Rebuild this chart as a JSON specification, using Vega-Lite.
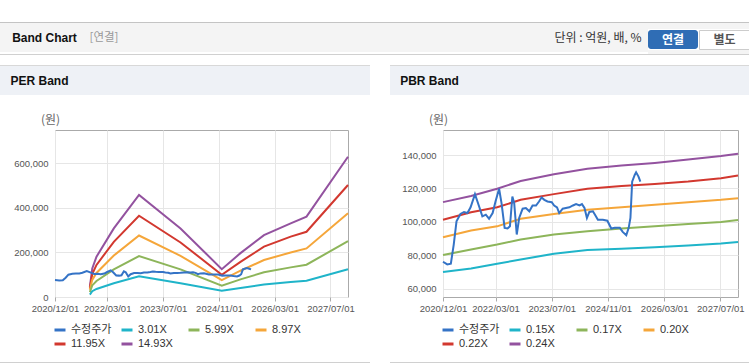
{
  "$schema": "https://vega.github.io/schema/vega-lite/v6.json",
  "padding": {"top": 22, "left": 0, "right": 0, "bottom": 0},
  "background": "#ffffff",
  "spacing": 10,
  "config": {
    "view": {"stroke": null},
    "font": "Liberation Sans",
    "axis": {"gridColor": "#e6e6e6", "gridWidth": 1, "domain": false, "labelFlush": false, "labelOverlap": false, "labelFont": "Liberation Sans", "labelFontSize": 9.5, "labelColor": "#555555"}
  },
  "resolve": {"scale": {"color": "independent"}, "legend": {"color": "independent"}},
  "datasets": {
    "price": [
      {"date": "2020-12-01", "series": "수정주가", "value": 76100},
      {"date": "2021-01-07", "series": "수정주가", "value": 74500},
      {"date": "2021-02-07", "series": "수정주가", "value": 74900},
      {"date": "2021-03-04", "series": "수정주가", "value": 86400},
      {"date": "2021-03-28", "series": "수정주가", "value": 100300},
      {"date": "2021-05-01", "series": "수정주가", "value": 104700},
      {"date": "2021-06-01", "series": "수정주가", "value": 105900},
      {"date": "2021-07-01", "series": "수정주가", "value": 105300},
      {"date": "2021-07-28", "series": "수정주가", "value": 108700},
      {"date": "2021-09-04", "series": "수정주가", "value": 116600},
      {"date": "2021-10-10", "series": "수정주가", "value": 109200},
      {"date": "2021-11-07", "series": "수정주가", "value": 103300},
      {"date": "2021-12-07", "series": "수정주가", "value": 104300},
      {"date": "2022-01-04", "series": "수정주가", "value": 101900},
      {"date": "2022-02-04", "series": "수정주가", "value": 105300},
      {"date": "2022-03-01", "series": "수정주가", "value": 112200},
      {"date": "2022-04-01", "series": "수정주가", "value": 119800},
      {"date": "2022-04-22", "series": "수정주가", "value": 111200},
      {"date": "2022-05-19", "series": "수정주가", "value": 96400},
      {"date": "2022-06-13", "series": "수정주가", "value": 96000},
      {"date": "2022-07-04", "series": "수정주가", "value": 97300},
      {"date": "2022-07-25", "series": "수정주가", "value": 115200},
      {"date": "2022-08-10", "series": "수정주가", "value": 111200},
      {"date": "2022-09-01", "series": "수정주가", "value": 92400},
      {"date": "2022-09-22", "series": "수정주가", "value": 102300},
      {"date": "2022-10-22", "series": "수정주가", "value": 107900},
      {"date": "2022-11-19", "series": "수정주가", "value": 108300},
      {"date": "2022-12-19", "series": "수정주가", "value": 106300},
      {"date": "2023-01-16", "series": "수정주가", "value": 109800},
      {"date": "2023-02-15", "series": "수정주가", "value": 109800},
      {"date": "2023-03-13", "series": "수정주가", "value": 112200},
      {"date": "2023-04-04", "series": "수정주가", "value": 114600},
      {"date": "2023-04-28", "series": "수정주가", "value": 113200},
      {"date": "2023-05-25", "series": "수정주가", "value": 112200},
      {"date": "2023-07-01", "series": "수정주가", "value": 111800},
      {"date": "2023-07-22", "series": "수정주가", "value": 109800},
      {"date": "2023-08-16", "series": "수정주가", "value": 108700},
      {"date": "2023-09-04", "series": "수정주가", "value": 105300},
      {"date": "2023-10-04", "series": "수정주가", "value": 107900},
      {"date": "2023-11-01", "series": "수정주가", "value": 108300},
      {"date": "2023-12-01", "series": "수정주가", "value": 108700},
      {"date": "2024-01-01", "series": "수정주가", "value": 109800},
      {"date": "2024-01-28", "series": "수정주가", "value": 110600},
      {"date": "2024-02-27", "series": "수정주가", "value": 109800},
      {"date": "2024-03-19", "series": "수정주가", "value": 110600},
      {"date": "2024-04-10", "series": "수정주가", "value": 108300},
      {"date": "2024-05-01", "series": "수정주가", "value": 102300},
      {"date": "2024-05-22", "series": "수정주가", "value": 105900},
      {"date": "2024-06-22", "series": "수정주가", "value": 106300},
      {"date": "2024-07-10", "series": "수정주가", "value": 104300},
      {"date": "2024-08-04", "series": "수정주가", "value": 101300},
      {"date": "2024-09-16", "series": "수정주가", "value": 101300},
      {"date": "2024-10-25", "series": "수정주가", "value": 100700},
      {"date": "2024-11-28", "series": "수정주가", "value": 96000},
      {"date": "2024-12-28", "series": "수정주가", "value": 96400},
      {"date": "2025-02-10", "series": "수정주가", "value": 96400},
      {"date": "2025-03-07", "series": "수정주가", "value": 94000},
      {"date": "2025-04-07", "series": "수정주가", "value": 92000},
      {"date": "2025-04-28", "series": "수정주가", "value": 96400},
      {"date": "2025-05-13", "series": "수정주가", "value": 102300},
      {"date": "2025-05-28", "series": "수정주가", "value": 124100},
      {"date": "2025-06-19", "series": "수정주가", "value": 128100},
      {"date": "2025-07-01", "series": "수정주가", "value": 129700},
      {"date": "2025-07-22", "series": "수정주가", "value": 127100},
      {"date": "2025-08-07", "series": "수정주가", "value": 124100}
    ],
    "perBands": [
      {"date": "2021-10-01", "series": "14.93X", "value": 46000},
      {"date": "2021-10-22", "series": "14.93X", "value": 128000},
      {"date": "2021-11-28", "series": "14.93X", "value": 181000},
      {"date": "2022-04-28", "series": "14.93X", "value": 308000},
      {"date": "2022-12-04", "series": "14.93X", "value": 458000},
      {"date": "2023-12-01", "series": "14.93X", "value": 308000},
      {"date": "2024-11-25", "series": "14.93X", "value": 125000},
      {"date": "2025-05-07", "series": "14.93X", "value": 197000},
      {"date": "2025-11-28", "series": "14.93X", "value": 278000},
      {"date": "2026-07-19", "series": "14.93X", "value": 331000},
      {"date": "2026-12-04", "series": "14.93X", "value": 361000},
      {"date": "2027-12-01", "series": "14.93X", "value": 630000},
      {"date": "2021-10-01", "series": "11.95X", "value": 39000},
      {"date": "2021-10-22", "series": "11.95X", "value": 103000},
      {"date": "2021-11-28", "series": "11.95X", "value": 144000},
      {"date": "2022-04-28", "series": "11.95X", "value": 248000},
      {"date": "2022-12-04", "series": "11.95X", "value": 365000},
      {"date": "2023-12-01", "series": "11.95X", "value": 245000},
      {"date": "2024-11-25", "series": "11.95X", "value": 100000},
      {"date": "2025-05-07", "series": "11.95X", "value": 158000},
      {"date": "2025-11-28", "series": "11.95X", "value": 226000},
      {"date": "2026-07-19", "series": "11.95X", "value": 271000},
      {"date": "2026-12-04", "series": "11.95X", "value": 293000},
      {"date": "2027-12-01", "series": "11.95X", "value": 503000},
      {"date": "2021-10-01", "series": "8.97X", "value": 33000},
      {"date": "2021-10-22", "series": "8.97X", "value": 77000},
      {"date": "2021-11-28", "series": "8.97X", "value": 108000},
      {"date": "2022-04-28", "series": "8.97X", "value": 186000},
      {"date": "2022-12-04", "series": "8.97X", "value": 276000},
      {"date": "2023-12-01", "series": "8.97X", "value": 185000},
      {"date": "2024-11-25", "series": "8.97X", "value": 76000},
      {"date": "2025-05-07", "series": "8.97X", "value": 118000},
      {"date": "2025-11-28", "series": "8.97X", "value": 166000},
      {"date": "2026-07-19", "series": "8.97X", "value": 200000},
      {"date": "2026-12-04", "series": "8.97X", "value": 218000},
      {"date": "2027-12-01", "series": "8.97X", "value": 376000},
      {"date": "2021-10-01", "series": "5.99X", "value": 22000},
      {"date": "2021-10-22", "series": "5.99X", "value": 52000},
      {"date": "2021-11-28", "series": "5.99X", "value": 72000},
      {"date": "2022-04-28", "series": "5.99X", "value": 124000},
      {"date": "2022-12-04", "series": "5.99X", "value": 184000},
      {"date": "2023-12-01", "series": "5.99X", "value": 124000},
      {"date": "2024-11-25", "series": "5.99X", "value": 51000},
      {"date": "2025-05-07", "series": "5.99X", "value": 79000},
      {"date": "2025-11-28", "series": "5.99X", "value": 111000},
      {"date": "2026-07-19", "series": "5.99X", "value": 133000},
      {"date": "2026-12-04", "series": "5.99X", "value": 145000},
      {"date": "2027-12-01", "series": "5.99X", "value": 251000},
      {"date": "2021-10-01", "series": "3.01X", "value": 11000},
      {"date": "2021-10-22", "series": "3.01X", "value": 26000},
      {"date": "2021-11-28", "series": "3.01X", "value": 36000},
      {"date": "2022-04-28", "series": "3.01X", "value": 62000},
      {"date": "2022-12-04", "series": "3.01X", "value": 93000},
      {"date": "2023-12-01", "series": "3.01X", "value": 62000},
      {"date": "2024-11-25", "series": "3.01X", "value": 28000},
      {"date": "2025-05-07", "series": "3.01X", "value": 40000},
      {"date": "2025-11-28", "series": "3.01X", "value": 56000},
      {"date": "2026-07-19", "series": "3.01X", "value": 67000},
      {"date": "2026-12-04", "series": "3.01X", "value": 73000},
      {"date": "2027-12-01", "series": "3.01X", "value": 125000}
    ],
    "pbrBands": [
      {"date": "2020-12-01", "series": "0.24X", "value": 111800},
      {"date": "2021-08-01", "series": "0.24X", "value": 115500},
      {"date": "2022-03-15", "series": "0.24X", "value": 119800},
      {"date": "2022-10-05", "series": "0.24X", "value": 124500},
      {"date": "2023-07-20", "series": "0.24X", "value": 128500},
      {"date": "2024-05-05", "series": "0.24X", "value": 131800},
      {"date": "2025-02-25", "series": "0.24X", "value": 133700},
      {"date": "2025-12-10", "series": "0.24X", "value": 135300},
      {"date": "2026-09-25", "series": "0.24X", "value": 137300},
      {"date": "2027-07-07", "series": "0.24X", "value": 139400},
      {"date": "2027-12-01", "series": "0.24X", "value": 140800},
      {"date": "2020-12-01", "series": "0.22X", "value": 101300},
      {"date": "2021-08-01", "series": "0.22X", "value": 105700},
      {"date": "2022-03-15", "series": "0.22X", "value": 108700},
      {"date": "2022-10-05", "series": "0.22X", "value": 113200},
      {"date": "2023-07-20", "series": "0.22X", "value": 116600},
      {"date": "2024-05-05", "series": "0.22X", "value": 119800},
      {"date": "2025-02-25", "series": "0.22X", "value": 121500},
      {"date": "2025-12-10", "series": "0.22X", "value": 122700},
      {"date": "2026-09-25", "series": "0.22X", "value": 124100},
      {"date": "2027-07-07", "series": "0.22X", "value": 126100},
      {"date": "2027-12-01", "series": "0.22X", "value": 127700},
      {"date": "2020-12-01", "series": "0.20X", "value": 90800},
      {"date": "2021-08-01", "series": "0.20X", "value": 94800},
      {"date": "2022-03-15", "series": "0.20X", "value": 97300},
      {"date": "2022-10-05", "series": "0.20X", "value": 101900},
      {"date": "2023-07-20", "series": "0.20X", "value": 104700},
      {"date": "2024-05-05", "series": "0.20X", "value": 107300},
      {"date": "2025-02-25", "series": "0.20X", "value": 108700},
      {"date": "2025-12-10", "series": "0.20X", "value": 110200},
      {"date": "2026-09-25", "series": "0.20X", "value": 111800},
      {"date": "2027-07-07", "series": "0.20X", "value": 113200},
      {"date": "2027-12-01", "series": "0.20X", "value": 114200},
      {"date": "2020-12-01", "series": "0.17X", "value": 80100},
      {"date": "2021-08-01", "series": "0.17X", "value": 83500},
      {"date": "2022-03-15", "series": "0.17X", "value": 86400},
      {"date": "2022-10-05", "series": "0.17X", "value": 89400},
      {"date": "2023-07-20", "series": "0.17X", "value": 92400},
      {"date": "2024-05-05", "series": "0.17X", "value": 94400},
      {"date": "2025-02-25", "series": "0.17X", "value": 96000},
      {"date": "2025-12-10", "series": "0.17X", "value": 97300},
      {"date": "2026-09-25", "series": "0.17X", "value": 98700},
      {"date": "2027-07-07", "series": "0.17X", "value": 99900},
      {"date": "2027-12-01", "series": "0.17X", "value": 101100},
      {"date": "2020-12-01", "series": "0.15X", "value": 70000},
      {"date": "2021-08-01", "series": "0.15X", "value": 72100},
      {"date": "2022-03-15", "series": "0.15X", "value": 74900},
      {"date": "2022-10-05", "series": "0.15X", "value": 77500},
      {"date": "2023-07-20", "series": "0.15X", "value": 80900},
      {"date": "2024-05-05", "series": "0.15X", "value": 83100},
      {"date": "2025-02-25", "series": "0.15X", "value": 83900},
      {"date": "2025-12-10", "series": "0.15X", "value": 84800},
      {"date": "2026-09-25", "series": "0.15X", "value": 85800},
      {"date": "2027-07-07", "series": "0.15X", "value": 87000},
      {"date": "2027-12-01", "series": "0.15X", "value": 88000}
    ],
    "blank": [{}]
  },
  "vconcat": [
    {
      "spacing": 0,
      "vconcat": [
        {"width": 749, "height": 1, "data": {"name": "blank"}, "mark": {"type": "text", "text": "", "fontSize": 0}, "view": {"fill": "#c4c4c4", "stroke": null}},
        {
          "spacing": 0,
          "hconcat": [
            {"width": 89, "height": 29, "data": {"name": "blank"}, "mark": {"type": "text", "text": "Band Chart", "align": "center", "baseline": "middle", "font": "Liberation Sans", "fontSize": 12, "fontWeight": "bold", "color": "#111111"}, "view": {"fill": "#f4f4f4", "stroke": null}},
            {"width": 30, "height": 29, "data": {"name": "blank"}, "mark": {"type": "text", "text": "[연결]", "align": "center", "baseline": "middle", "font": "Noto Sans CJK KR", "fontSize": 11.5, "color": "#999999"}, "view": {"fill": "#f4f4f4", "stroke": null}},
            {"width": 429, "height": 29, "data": {"name": "blank"}, "mark": {"type": "text", "text": "", "fontSize": 0}, "view": {"fill": "#f4f4f4", "stroke": null}},
            {"width": 100, "height": 29, "data": {"name": "blank"}, "mark": {"type": "text", "text": "단위 : 억원, 배, %", "align": "center", "baseline": "middle", "font": "Noto Sans CJK KR", "fontSize": 12, "color": "#333333"}, "view": {"fill": "#f4f4f4", "stroke": null}},
            {
              "spacing": 0,
              "vconcat": [
                {"width": 101, "height": 6, "data": {"name": "blank"}, "mark": {"type": "text", "text": "", "fontSize": 0}, "view": {"fill": "#f4f4f4", "stroke": null}},
                {
                  "spacing": 0,
                  "hconcat": [
                    {"width": 50, "height": 19, "data": {"name": "blank"}, "mark": {"type": "text", "text": "연결", "color": "#ffffff", "font": "Noto Sans CJK KR", "fontSize": 12, "fontWeight": "bold", "align": "center", "baseline": "middle"}, "view": {"fill": "#2f6db5", "stroke": null, "cornerRadius": 3}},
                    {"width": 51, "height": 19, "data": {"name": "blank"}, "mark": {"type": "text", "text": "별도", "color": "#555555", "font": "Noto Sans CJK KR", "fontSize": 12, "fontWeight": "bold", "align": "center", "baseline": "middle"}, "view": {"fill": "#ffffff", "stroke": "#cccccc"}}
                  ]
                },
                {"width": 101, "height": 4, "data": {"name": "blank"}, "mark": {"type": "text", "text": "", "fontSize": 0}, "view": {"fill": "#f4f4f4", "stroke": null}}
              ]
            }
          ]
        },
        {"width": 749, "height": 1, "data": {"name": "blank"}, "mark": {"type": "text", "text": "", "fontSize": 0}, "view": {"fill": "#d0d0d0", "stroke": null}}
      ]
    },
    {
      "spacing": 20,
      "resolve": {"scale": {"color": "independent"}, "legend": {"color": "independent"}},
      "hconcat": [
        {
          "spacing": 17,
          "resolve": {"scale": {"color": "independent"}, "legend": {"color": "independent"}},
          "vconcat": [
            {
              "spacing": 0,
              "vconcat": [
                {"width": 370, "height": 1, "data": {"name": "blank"}, "mark": {"type": "text", "text": "", "fontSize": 0}, "view": {"fill": "#d8d8d8", "stroke": null}},
                {
                  "spacing": 0,
                  "hconcat": [
                    {"width": 79, "height": 29, "data": {"name": "blank"}, "mark": {"type": "text", "text": "PER Band", "align": "center", "baseline": "middle", "font": "Liberation Sans", "fontSize": 12, "fontWeight": "bold", "color": "#111111"}, "view": {"fill": "#eef1f6", "stroke": null}},
                    {"width": 291, "height": 29, "data": {"name": "blank"}, "mark": {"type": "text", "text": "", "fontSize": 0}, "view": {"fill": "#eef1f6", "stroke": null}}
                  ]
                }
              ]
            },
            {
              "spacing": 11,
              "resolve": {"scale": {"color": "independent"}, "legend": {"color": "independent"}},
              "vconcat": [
                {
                  "spacing": 0,
                  "resolve": {"scale": {"color": "independent"}, "legend": {"color": "independent"}},
                  "hconcat": [
                    {"width": 1, "height": 1, "data": {"name": "blank"}, "mark": {"type": "text", "text": "", "fontSize": 0}},
                    {
                      "width": 293,
                      "height": 167,
                      "view": {"stroke": "#aaaaaa", "fill": null},
                      "layer": [
                        {
                          "data": {"name": "perBands"},
                          "mark": {"type": "line", "strokeWidth": 2},
                          "encoding": {
                            "x": {"field": "date", "type": "temporal",
                              "scale": {"type": "utc", "domain": [{"year": 2020, "month": 12, "date": 1, "utc": true}, {"year": 2027, "month": 12, "date": 1, "utc": true}]},
                              "axis": {"title": null, "format": "%Y/%m/%d", "tickSize": 4, "tickColor": "#aaaaaa", "labelPadding": 2,
                                "values": [{"year": 2020, "month": 12, "date": 1, "utc": true}, {"year": 2022, "month": 3, "date": 1, "utc": true}, {"year": 2023, "month": 7, "date": 1, "utc": true}, {"year": 2024, "month": 11, "date": 1, "utc": true}, {"year": 2026, "month": 3, "date": 1, "utc": true}, {"year": 2027, "month": 7, "date": 1, "utc": true}]}},
                            "y": {"field": "value", "type": "quantitative",
                              "scale": {"domain": [0, 750000], "nice": false, "zero": false},
                              "axis": {"values": [0, 200000, 400000, 600000], "format": ",d", "ticks": false, "labelPadding": 7, "minExtent": 53, "maxExtent": 53,
                                "title": "(원)", "titleAngle": 0, "titleAlign": "center", "titleBaseline": "middle", "titleX": -5, "titleY": -11, "titleFont": "Noto Sans CJK KR", "titleFontSize": 12, "titleFontWeight": "normal", "titleColor": "#666666"}},
                            "color": {"field": "series", "type": "nominal",
                              "scale": {"domain": ["수정주가", "3.01X", "5.99X", "8.97X", "11.95X", "14.93X"], "range": ["#3473c6", "#1fb4c9", "#8db55a", "#f5a63a", "#d2382f", "#93529f"]},
                              "legend": {"orient": "none", "legendX": -2, "legendY": 193, "direction": "horizontal", "columns": 4, "title": null, "symbolType": "stroke", "symbolStrokeWidth": 3, "symbolSize": 121, "labelFont": "Liberation Sans, Noto Sans CJK KR", "labelFontSize": 11, "labelColor": "#333333", "labelOffset": 4, "columnPadding": 3, "rowPadding": 1, "gridAlign": "all", "padding": 0}}
                          }
                        },
                        {
                          "data": {"name": "price"},
                          "mark": {"type": "line", "strokeWidth": 2},
                          "encoding": {
                            "x": {"field": "date", "type": "temporal"},
                            "y": {"field": "value", "type": "quantitative"},
                            "color": {"field": "series", "type": "nominal"}
                          }
                        }
                      ]
                    }
                  ]
                },
                {"width": 370, "height": 1, "data": {"name": "blank"}, "mark": {"type": "text", "text": "", "fontSize": 0}, "view": {"fill": "#d0d0d0", "stroke": null}}
              ]
            }
          ]
        },
        {
          "spacing": 17,
          "resolve": {"scale": {"color": "independent"}, "legend": {"color": "independent"}},
          "vconcat": [
            {
              "spacing": 0,
              "vconcat": [
                {"width": 359, "height": 1, "data": {"name": "blank"}, "mark": {"type": "text", "text": "", "fontSize": 0}, "view": {"fill": "#d8d8d8", "stroke": null}},
                {
                  "spacing": 0,
                  "hconcat": [
                    {"width": 79, "height": 29, "data": {"name": "blank"}, "mark": {"type": "text", "text": "PBR Band", "align": "center", "baseline": "middle", "font": "Liberation Sans", "fontSize": 12, "fontWeight": "bold", "color": "#111111"}, "view": {"fill": "#eef1f6", "stroke": null}},
                    {"width": 280, "height": 29, "data": {"name": "blank"}, "mark": {"type": "text", "text": "", "fontSize": 0}, "view": {"fill": "#eef1f6", "stroke": null}}
                  ]
                }
              ]
            },
            {
              "spacing": 11,
              "resolve": {"scale": {"color": "independent"}, "legend": {"color": "independent"}},
              "vconcat": [
                {
                  "spacing": 0,
                  "resolve": {"scale": {"color": "independent"}, "legend": {"color": "independent"}},
                  "hconcat": [
                    {"width": 1, "height": 1, "data": {"name": "blank"}, "mark": {"type": "text", "text": "", "fontSize": 0}},
                    {
                      "width": 295,
                      "height": 167,
                      "view": {"stroke": "#aaaaaa", "fill": null},
                      "layer": [
                        {
                          "data": {"name": "pbrBands"},
                          "mark": {"type": "line", "strokeWidth": 2},
                          "encoding": {
                            "x": {"field": "date", "type": "temporal",
                              "scale": {"type": "utc", "domain": [{"year": 2020, "month": 12, "date": 1, "utc": true}, {"year": 2027, "month": 12, "date": 1, "utc": true}]},
                              "axis": {"title": null, "format": "%Y/%m/%d", "tickSize": 4, "tickColor": "#aaaaaa", "labelPadding": 2,
                                "values": [{"year": 2020, "month": 12, "date": 1, "utc": true}, {"year": 2022, "month": 3, "date": 1, "utc": true}, {"year": 2023, "month": 7, "date": 1, "utc": true}, {"year": 2024, "month": 11, "date": 1, "utc": true}, {"year": 2026, "month": 3, "date": 1, "utc": true}, {"year": 2027, "month": 7, "date": 1, "utc": true}]}},
                            "y": {"field": "value", "type": "quantitative",
                              "scale": {"domain": [55000, 155000], "nice": false, "zero": false},
                              "axis": {"values": [60000, 80000, 100000, 120000, 140000], "format": ",d", "ticks": false, "labelPadding": 7, "minExtent": 51, "maxExtent": 51,
                                "title": "(원)", "titleAngle": 0, "titleAlign": "center", "titleBaseline": "middle", "titleX": -5, "titleY": -11, "titleFont": "Noto Sans CJK KR", "titleFontSize": 12, "titleFontWeight": "normal", "titleColor": "#666666"}},
                            "color": {"field": "series", "type": "nominal",
                              "scale": {"domain": ["수정주가", "0.15X", "0.17X", "0.20X", "0.22X", "0.24X"], "range": ["#3473c6", "#1fb4c9", "#8db55a", "#f5a63a", "#d2382f", "#93529f"]},
                              "legend": {"orient": "none", "legendX": -2, "legendY": 193, "direction": "horizontal", "columns": 4, "title": null, "symbolType": "stroke", "symbolStrokeWidth": 3, "symbolSize": 121, "labelFont": "Liberation Sans, Noto Sans CJK KR", "labelFontSize": 11, "labelColor": "#333333", "labelOffset": 4, "columnPadding": 3, "rowPadding": 1, "gridAlign": "all", "padding": 0}}
                          }
                        },
                        {
                          "data": {"name": "price"},
                          "mark": {"type": "line", "strokeWidth": 2},
                          "encoding": {
                            "x": {"field": "date", "type": "temporal"},
                            "y": {"field": "value", "type": "quantitative"},
                            "color": {"field": "series", "type": "nominal"}
                          }
                        }
                      ]
                    }
                  ]
                },
                {"width": 359, "height": 1, "data": {"name": "blank"}, "mark": {"type": "text", "text": "", "fontSize": 0}, "view": {"fill": "#d0d0d0", "stroke": null}}
              ]
            }
          ]
        }
      ]
    }
  ]
}
